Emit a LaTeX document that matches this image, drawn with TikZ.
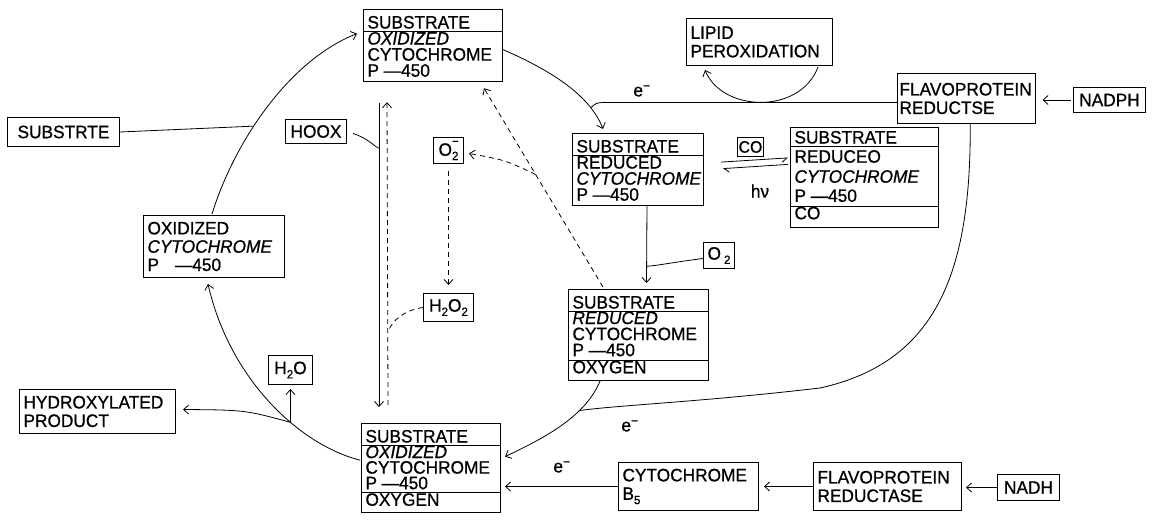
\documentclass[tikz,border=0pt]{standalone}
\usepackage{fontspec}
\setmainfont{Liberation Sans}[FakeStretch=0.96,FakeBold=0.8]
\usetikzlibrary{arrows.meta,calc}
\newcommand\fs{\fontsize{18}{18.5}\selectfont}
\newcommand\rs[2]{\rule[-#2pt]{0pt}{#1pt}}
\newcommand\dn[1]{\raisebox{-0.45ex}{\fontsize{12}{12}\selectfont #1}}
\newcommand\tb[2]{\begin{tabular}{@{\hspace{4pt}}p{#1pt}@{}}#2\end{tabular}}
\setlength{\arrayrulewidth}{1pt}
\renewcommand{\arraystretch}{0}
\begin{document}
\begin{tikzpicture}[x=1pt,y=-1pt,line width=0.8pt,
  >={Straight Barb[length=5pt,width=9pt]},
  tbx/.style={draw,line width=1pt,inner sep=0pt,anchor=north west,font=\fs},
  pbox/.style={draw,line width=1pt,anchor=north west,font=\fs,align=left,inner xsep=4pt,inner ysep=0pt},
  cbox/.style={draw,line width=1pt,anchor=north west,font=\fs,inner sep=0pt},
  lab/.style={font=\fs,inner sep=1pt},
  dsh/.style={dash pattern=on 5pt off 4pt}]
\useasboundingbox (0,0) rectangle (1154,525);

% split boxes
\node[tbx] (T) at (363,9) {\tb{135}{\rs{21.5}{2.5}SUBSTRATE\\\hline
 \rs{15.5}{3.5}\textit{OXIDIZED}\\ \rs{15.5}{3.5}CYTOCHROME\\ \rs{15.5}{5}P —450}};
\node[tbx] (R) at (572,133) {\tb{127}{\rs{21.5}{2.5}SUBSTRATE\\\hline
 \rs{15.5}{3.5}REDUCED\\ \rs{15.5}{3.5}\textit{CYTOCHROME}\\ \rs{15.5}{5}P —450}};
\node[tbx] (C) at (790,127) {\tb{144}{\rs{18}{2}SUBSTRATE\\\hline
 \rs{20.2}{4}REDUCEO\\ \rs{20}{4}\textit{CYTOCHROME}\\ \rs{19}{3.8}P —450\\\hline
 \rs{18.2}{8}CO}};
\node[tbx] (RO) at (568,289) {\tb{136}{\rs{21}{2}SUBSTRATE\\\hline
 \rs{15.5}{3.5}\textit{REDUCED}\\ \rs{15.5}{3.5}CYTOCHROME\\ \rs{15.5}{3.5}P —450\\\hline
 \rs{16}{7.3}OXYGEN}};
\node[tbx] (B) at (361,423) {\tb{135}{\rs{21}{2}SUBSTRATE\\\hline
 \rs{15}{3}\textit{OXIDIZED}\\ \rs{15}{3}CYTOCHROME\\ \rs{15}{3}P —450\\\hline
 \rs{16}{7}OXYGEN}};

% text boxes
\node[pbox,text width=133pt,minimum height=62pt,font=\fontsize{18}{18.3}\selectfont] (OX) at (143,215)
 {OXIDIZED\\\textit{CYTOCHROME}\\P\hspace{16pt}—450};
\node[pbox,text width=138pt,minimum height=47pt] (L) at (686,18) {LIPID\\PEROXIDATION};
\node[pbox,text width=133.5pt,inner xsep=2pt,minimum height=50pt] (F1) at (897,73) {FLAVOPROTEIN\\REDUCTSE};
\node[pbox,text width=140pt,minimum height=48pt] (F2) at (813,462) {FLAVOPROTEIN\\REDUCTASE};
\node[pbox,text width=132pt,minimum height=48pt] (CB) at (618,462) {CYTOCHROME\\B\dn{5}};
\node[pbox,text width=148pt,minimum height=44pt] (HP) at (19,389) {HYDROXYLATED\\PRODUCT};

\node[cbox,minimum width=112pt,minimum height=29pt] (S) at (7,117) {SUBSTRTE};
\node[cbox,minimum width=61pt,minimum height=24pt] (HOOX) at (285,119) {HOOX};
\node[cbox,minimum width=30pt,minimum height=26pt] (O2m) at (433,137)
 {O\rlap{\raisebox{1.1ex}{\fontsize{12}{12}\selectfont −}}\dn{2}};
\node[cbox,minimum width=50pt,minimum height=28pt] (H2O2) at (423,293) {H\dn{2}O\dn{2}};
\node[cbox,minimum width=31pt,minimum height=26pt] (O2b) at (703,242) {O\,\dn{2}};
\node[cbox,minimum width=26pt,minimum height=19pt,font=\fontsize{16.5}{16.5}\selectfont] (COl) at (737,137) {CO};
\node[cbox,minimum width=72pt,minimum height=25pt] (N1) at (1073,87) {NADPH};
\node[cbox,minimum width=62pt,minimum height=26pt] (N2) at (997,474) {NADH};
\node[cbox,minimum width=44pt,minimum height=29pt] (H2O) at (268,355) {H\dn{2}O};

% labels
\node[lab] (e1) at (642,91) {e\textsuperscript{−}};
\node[lab] (e2) at (630,426) {e\textsuperscript{−}};
\node[lab] (e3) at (562,467) {e\textsuperscript{−}};
\node[lab] (hv) at (760,191) {hν};

% left cycle
\draw[->] ($(OX.north)+(-2,-1)$) .. controls (235,140) and (290,60) .. ($(T.west)+(-6,-12)$)
  coordinate[pos=0.4] (sj);
\draw (S.east) -- (sj);
\draw[->] ($(B.west)+(-1,-8)$) .. controls (300,445) and (230,380) .. ($(OX.south)+(-6,6)$)
  coordinate[pos=0.38] (br);
\draw[->,shorten >=4pt] (br) -- (br |- H2O.south);
\draw[->] (br) .. controls (245,410) .. ($(HP.east)+(7,-2)$);

% top: T to R, e- from flavoprotein
\draw[->] ($(T.east)+(0,4)$) .. controls (550,70) and (590,95) .. ($(R.north west)+(31,-4)$)
  coordinate[pos=0.78] (tj);
\draw ($(F1.west)+(0,4)$) -- ++(-294,0) .. controls (596,103) .. (tj);
\draw[->,shorten >=7pt,shorten <=2pt] (N1.west) -- (N1.west -| F1.east);
\draw[->] ($(L.south east)+(-15,1)$) .. controls (800,115) and (722,112) .. ($(L.south west)+(19,4)$);

% CO equilibrium
\draw[-{Straight Barb[right,length=5pt,width=8pt]}] ($(R.east)+(17,-7.5)$) -- ($(C.west)+(-2,-19.5)$);
\draw[-{Straight Barb[left,length=5pt,width=8pt]}] ($(C.west)+(-2,-13)$) -- ($(R.east)+(19,-1)$);

% R to RO, O2
\coordinate (rj) at ($(R.south)+(9,60)$);
\draw[->] ($(R.south)+(9,0)$) -- ($(RO.north)+(8,-6)$);
\draw ($(O2b.west)+(0,3)$) .. controls (675,262) and (655,266) .. (rj);

% central vertical lines
\coordinate (hj) at ($(T.south west)+(16,66)$);
\draw[->] ($(T.south west)+(16,21)$) -- ($(B.north west)+(18,-16)$);
\draw ($(HOOX.east)+(6,2)$) .. controls (368,138) and (376,148) .. (hj);
\coordinate (h2j) at ($(B.north west)+(27,-91)$);
\draw[dsh,->] ($(B.north west)+(27,-18)$) -- ($(T.south west)+(24,20)$);
\draw[dsh] (H2O2.west) .. controls (405,310) and (392,320) .. (h2j);

% dashed from RO to T, superoxide
\draw[dsh,->] ($(RO.north west)+(35,-2)$) -- ($(T.south east)+(-19,6)$) coordinate[pos=0.566] (dj);
\draw[dsh,->] (dj) .. controls (505,160) .. ($(O2m.east)+(5,3)$);
\draw[dsh,->] ($(O2m.south)+(0,7)$) -- ($(H2O2.north)+(0,-8)$);

% RO and F1 to B
\draw[->] ($(RO.south west)+(32,0)$) .. controls (585,418) and (540,440) .. ($(B.east)+(4,-11.5)$)
  coordinate[pos=0.3] (mj);
\draw ($(F1.south)+(4,0)$) .. controls (971,270) and (938,362) .. (820,388)
  .. controls (700,402) and (620,405) .. (mj);

% bottom chain
\draw[->,shorten >=4pt] (CB.west) -- (CB.west -| B.east);
\draw[->,shorten >=5pt] (F2.west) -- (F2.west -| CB.east);
\draw[->,shorten >=4pt] (N2.west) -- (N2.west -| F2.east);
\end{tikzpicture}
\end{document}
